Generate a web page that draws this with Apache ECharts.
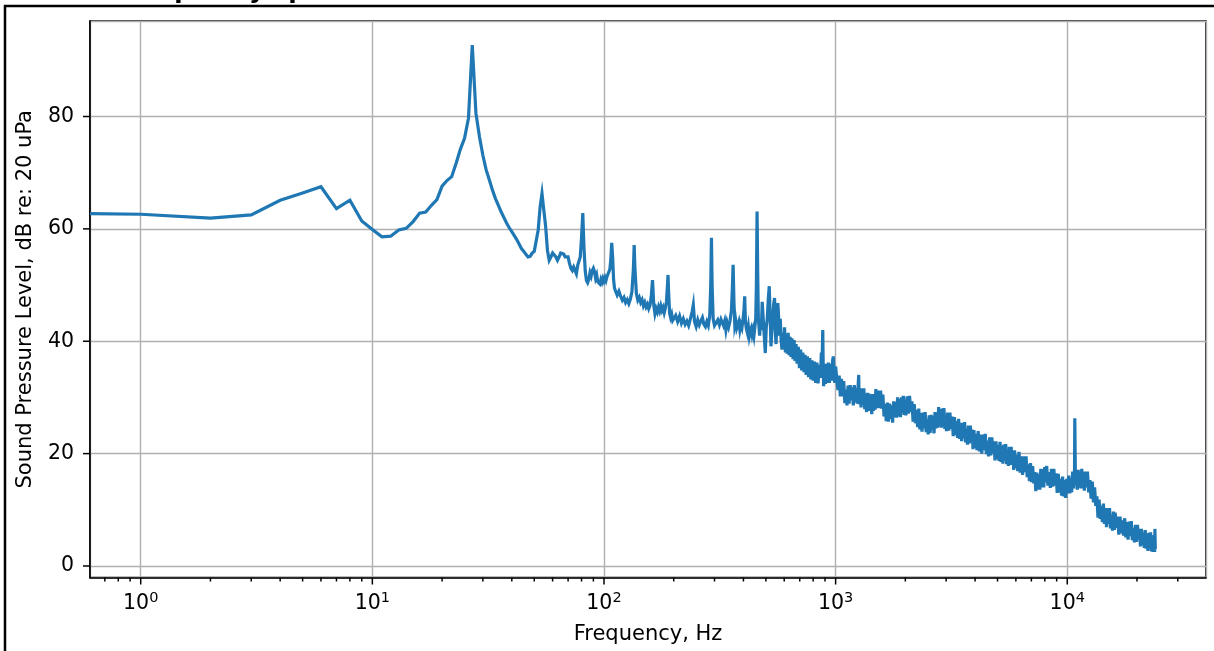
<!DOCTYPE html>
<html>
<head>
<meta charset="utf-8">
<script src="https://cdn.jsdelivr.net/npm/echarts@6/dist/echarts.min.js"></script>
<style>
html,body{margin:0;padding:0;background:#fff;}
#chart{width:1214px;height:651px;}
</style>
</head>
<body>
<div id="chart"></div>
<script>
// ---- data: [frequency Hz, SPL dB re 20 uPa] ----
const lowBand = [[0.604,62.7],[1,62.6],[2,61.9],[3,62.5],[4,65.1],[5,66.4],[6,67.5],[7,63.6],[8,65.1],[9,61.4],[10,59.9],[11,58.6],[12,58.7],[13,59.8],[14,60.1],[15,61.3],[16,62.8],[17,63.0],[18,64.2],[19,65.2],[20,67.6],[21,68.6],[22,69.3],[23,71.7],[24,74.2],[25,76.1],[26,79.7],[27,92.7],[28,80.6],[29,76.4],[30,73.1],[31,70.5],[32,68.7],[33,66.9],[34,65.4],[35,64.2],[36,63.0],[37,62.0],[38,61.0],[39,60.2],[40,59.5],[41,58.8],[42,58.1],[43,57.3],[44,56.5],[45,56.0],[46,55.5],[47,55.0],[48,55.1],[49,55.7],[50,56.0],[51,56.2],[52,59.8],[53,63.9],[54,66.3],[55,63.3],[56,60.4],[57,56.2],[58,54.4],[59,55.0],[60,55.7],[61,55.9],[62,55.0],[63,54.4],[64,55.0],[65,55.7],[66,55.9],[67,55.5],[68,55.0],[69,55.3],[70,55.0],[71,53.8],[72,53.0],[73,52.6],[74,53.2],[75,53.0],[76,52.0],[77,53.5],[78,53.5],[79,55.0],[80,58.5],[81,62.8],[82,56.5],[83,52.5],[84,50.8],[85,50.4],[86,51.0],[87,52.2],[88,51.6],[89,52.6],[90,53.0],[91,52.4],[92,51.2],[93,51.8],[94,50.6],[95,50.9],[96,50.2],[97,51.0],[98,50.5],[99,51.2],[100,50.7],[101,51.3],[102,50.8],[103,51.5],[104,51.2],[105,51.8],[106,52.8],[107,54.5],[108,57.5],[109,55.0],[110,51.0],[111,49.5]];
const midBand = [[112,49.0],[114,48.2],[116,48.9],[118,48.0],[120,47.3],[122,47.8],[124,46.9],[126,47.4],[128,46.7],[130,47.5],[132,48.8],[134,53.0],[135,57.1],[136,53.0],[138,48.5],[140,47.3],[142,47.8],[144,46.9],[146,47.4],[148,46.3],[150,46.9],[152,46.1],[154,46.6],[156,45.8],[158,46.4],[160,48.0],[162,50.9],[164,46.5],[166,44.9],[168,45.8],[170,45.2],[172,46.1],[174,45.4],[176,46.3],[178,45.5],[180,46.0],[182,45.1],[184,45.9],[186,47.0],[188,50.0],[189,51.8],[190,49.0],[192,45.0],[194,44.2],[196,44.8],[198,43.7]];
const harmonicBand = [[200,43.6],[204,44.6],[208,43.5],[212,44.5],[216,43.2],[220,44.0],[224,43.0],[228,43.6],[232,42.8],[236,44.0],[240,45.2],[243,46.5],[246,43.5],[250,42.6],[254,43.8],[258,42.9],[262,43.6],[266,44.2],[270,43.0],[274,42.6],[278,43.5],[282,42.8],[286,44.5],[289,50.0],[291,58.4],[293,50.0],[296,44.0],[300,42.8],[305,42.6],[310,43.8],[315,42.9],[320,43.9],[324,44.2],[328,42.8],[332,43.6],[336,42.0],[340,43.4],[345,42.5],[350,43.6],[355,45.5],[358,49.0],[361,53.6],[364,47.0],[367,43.0],[370,43.8],[374,42.3],[378,42.6],[382,43.5],[386,42.0],[390,43.0],[394,42.4],[398,43.8],[402,45.5],[405,48.0],[408,43.5],[412,42.2],[416,41.5],[420,42.6],[424,40.9],[428,41.8],[432,42.3],[436,41.2],[440,42.0],[444,41.0],[448,42.5],[452,44.0],[455,50.0],[458,63.1],[461,52.0],[464,44.0],[467,42.5],[470,41.0],[474,44.0],[478,42.0],[482,47.0],[487,46.8],[492,41.0],[497,37.9],[502,42.5],[507,44.0],[512,47.5],[517,49.8],[522,44.0],[526,39.1],[530,41.5],[535,44.0],[540,46.5],[545,47.7],[549,42.0],[553,39.5],[558,43.5],[563,46.8],[568,44.0],[573,41.0],[577,44.0],[582,40.1],[587,38.5],[592,41.5],[597,39.0],[602,42.5],[607,38.0],[612,41.0],[618,37.8],[624,41.5],[630,37.5],[636,40.8],[642,37.2],[648,40.5],[655,36.8],[662,40.2],[668,36.5],[675,39.5],[682,36.0],[690,39.0],[698,35.2],[706,38.5],[714,34.8],[722,38.0],[730,34.5],[738,37.6],[746,34.0],[755,37.3],[764,33.6],[773,37.0],[782,33.2],[791,36.6],[800,33.0],[810,36.4],[820,32.6],[830,36.2],[840,32.5],[850,35.8],[860,33.5],[868,38.0],[875,37.0],[880,42.0],[884,35.5],[888,32.0],[896,35.8],[904,32.4],[912,36.0],[920,32.6],[930,36.2],[940,32.6],[950,36.0],[960,33.0],[970,36.5],[977,37.3],[985,33.5],[992,32.6],[1000,35.5]];
const band1k = [[1012,35.3],[1024,31.3],[1036,33.9],[1048,30.2],[1060,33.3],[1072,30.2],[1084,32.9],[1096,29.0],[1108,31.4],[1120,28.6],[1132,32.1],[1144,28.9],[1156,32.2],[1168,29.5],[1180,31.8],[1192,28.6],[1204,32.2],[1216,29.1],[1228,31.7],[1240,28.9],[1252,32.4],[1258,34.0],[1264,28.8],[1276,31.6],[1288,28.2],[1300,31.6],[1312,28.7],[1324,31.6],[1336,27.9],[1348,30.2],[1360,27.4],[1372,30.8],[1384,27.6],[1396,30.7],[1408,27.9],[1420,30.3],[1432,27.0],[1444,30.6],[1456,27.6],[1468,30.4],[1480,27.8],[1492,31.5],[1510,28.1],[1528,31.2],[1546,28.1],[1564,31.2],[1582,28.0],[1600,30.5],[1618,26.6],[1636,28.8],[1654,25.8],[1672,29.1],[1690,25.7],[1708,28.9],[1726,26.2],[1744,28.6],[1762,25.5],[1780,29.3],[1798,26.5],[1816,29.2],[1834,26.4],[1852,30.0],[1870,26.6],[1888,29.7],[1906,26.5],[1924,30.0],[1942,27.3],[1960,30.3],[1978,26.9],[1996,29.5]];
const band2k = [[2010,26.8],[2035,30.2],[2060,27.1],[2085,30.3],[2110,27.4],[2135,29.3],[2160,25.7],[2185,28.8],[2210,25.4],[2235,27.8],[2260,24.7],[2285,28.0],[2310,24.3],[2335,27.2],[2360,23.9],[2385,27.3],[2410,24.5],[2435,27.4],[2460,23.8],[2485,26.2],[2510,23.4],[2535,26.8],[2560,23.7],[2585,26.9],[2610,24.2],[2635,26.7],[2660,23.6],[2685,27.4],[2710,24.5],[2735,27.3],[2760,24.6],[2785,28.3],[2810,24.9],[2835,27.9],[2860,24.6],[2885,28.0],[2910,25.2],[2935,28.1],[2960,24.4],[2985,26.8],[3010,24.0],[3045,27.3],[3080,24.1],[3115,27.3],[3150,24.4],[3185,26.6],[3220,23.1],[3255,26.5],[3290,23.3],[3325,25.8],[3360,22.8],[3395,26.2],[3430,22.6],[3465,25.5],[3500,22.2],[3535,25.5],[3570,22.7],[3605,25.6],[3640,22.0],[3675,24.4],[3710,21.6],[3745,25.0],[3780,21.8],[3815,25.0],[3850,22.1],[3885,24.3],[3920,20.8],[3955,24.2],[3990,21.0]];
const band4k = [[4025,23.5],[4075,20.6],[4125,24.0],[4175,20.4],[4225,23.4],[4275,20.0],[4325,23.4],[4375,20.6],[4425,23.5],[4475,19.9],[4525,22.3],[4575,19.5],[4625,22.9],[4675,19.7],[4725,22.9],[4775,20.0],[4825,22.2],[4875,18.8],[4925,22.2],[4975,19.0],[5025,21.5],[5075,18.7],[5125,22.1],[5175,18.5],[5225,21.4],[5275,18.2],[5325,21.6],[5375,18.8],[5425,21.7],[5475,18.1],[5525,20.6],[5575,17.8],[5625,21.2],[5675,18.0],[5725,21.2],[5775,18.3],[5825,20.5],[5875,17.1],[5925,20.6],[5975,17.4],[6040,19.8],[6115,16.9],[6190,20.3],[6265,16.6],[6340,19.5],[6415,16.2],[6490,19.5],[6565,16.7],[6640,19.5],[6715,15.8],[6790,18.1],[6865,15.1],[6940,18.3],[7015,14.9],[7090,17.8],[7165,14.7],[7240,16.7],[7315,13.3],[7390,16.6],[7465,13.6],[7540,16.3],[7615,13.6],[7690,17.3],[7765,14.0],[7840,17.2],[7915,14.0],[7990,17.6]];
const band8k = [[8050,14.9],[8150,17.8],[8250,14.3],[8350,16.7],[8450,13.9],[8550,17.3],[8650,14.1],[8750,17.3],[8850,14.3],[8950,16.5],[9050,13.0],[9150,16.4],[9250,13.1],[9350,15.5],[9450,12.5],[9550,15.9],[9650,12.4],[9750,15.3],[9850,12.1],[9950,15.5],[10050,12.9],[10150,16.1],[10250,12.9],[10350,15.6],[10450,13.1],[10550,16.8],[10650,13.8],[10750,17.2],[10780,26.3],[10850,14.5],[10950,16.9],[11050,13.6],[11150,17.1],[11250,14.0],[11350,16.6],[11450,13.8],[11550,17.3],[11650,13.8],[11750,16.7],[11850,13.4],[11950,16.8],[12075,14.0],[12225,16.8],[12375,13.1],[12525,15.3],[12675,12.0],[12825,15.0],[12975,11.3],[13125,14.0],[13275,10.7],[13425,12.4],[13575,8.6],[13725,11.8],[13875,8.4],[14025,10.7],[14175,7.8],[14325,11.1],[14475,7.5],[14625,10.3],[14775,6.9],[14925,10.3],[15075,7.5],[15225,10.3],[15375,6.7],[15525,9.1],[15675,6.3],[15825,9.7],[15975,6.4]];
const band16k = [[16100,9.5],[16300,6.8],[16500,8.8],[16700,5.6],[16900,8.8],[17100,5.8],[17300,8.1],[17500,5.4],[17700,8.5],[17900,5.1],[18100,7.8],[18300,4.7],[18500,7.9],[18700,5.3],[18900,8.0],[19100,4.6],[19300,6.8],[19500,4.2],[19700,7.3],[19900,4.3],[20100,7.3],[20300,4.7],[20500,6.6],[20700,3.5],[20900,6.6],[21100,3.7],[21300,5.9],[21500,3.2],[21700,6.4],[21900,3.1],[22100,5.7],[22300,2.7],[22500,5.9],[22700,3.3],[22900,6.0],[23100,2.6],[23300,4.9],[23500,2.5],[23700,5.5],[23850,2.5],[23900,6.6],[24000,3.0]];

const majorXTicks = [1, 10, 100, 1000, 10000];
const minorXTicks = [0.7,0.8,0.9,2,3,4,5,6,7,8,9,20,30,40,50,60,70,80,90,200,300,400,500,600,700,800,900,2000,3000,4000,5000,6000,7000,8000,9000,20000,30000];
const yTickValues = [0, 20, 40, 60, 80];

const X_MIN = 0.604, X_MAX = 39720;
const Y_MIN = -2.05, Y_MAX = 97.0;

const spectrum = [].concat(lowBand, midBand, harmonicBand, band1k, band2k, band4k, band8k, band16k);

const FONT = 'DejaVu Sans';
const chart = echarts.init(document.getElementById('chart'), null, {renderer: 'canvas'});

const xTickData = majorXTicks.map(f => [f, Y_MIN, 7]).concat(minorXTicks.map(f => [f, Y_MIN, 4]));
const yTickData = yTickValues.map(v => [X_MIN, v, 7]);

chart.setOption({
  backgroundColor: '#fff',
  animation: false,
  graphic: [
    {type: 'rect', z: 100, silent: true,
     shape: {x: 5, y: 6, width: 1400, height: 800},
     style: {fill: 'none', stroke: '#000', lineWidth: 2.5}},
    {type: 'text', z: 100, silent: true, x: 121, y: -8,
     style: {text: 'Frequency spectrum', fill: '#000', fontSize: 24.6, fontWeight: 'bold', fontFamily: FONT, verticalAlign: 'middle', align: 'left'}}
  ],
  grid: {left: 90, right: 8, top: 21, bottom: 73.5, show: true, borderColor: '#000', borderWidth: 1.6, containLabel: false},
  xAxis: {
    type: 'log', logBase: 10, min: X_MIN, max: X_MAX,
    name: 'Frequency, Hz', nameLocation: 'middle', nameGap: 47,
    nameTextStyle: {fontSize: 21, color: '#000', fontFamily: FONT},
    axisLine: {show: true, onZero: false, lineStyle: {color: '#000', width: 1.6}},
    axisTick: {show: false},
    axisLabel: {
      margin: 13, showMinLabel: false, showMaxLabel: false, color: '#000',
      formatter: v => '{b|10}{s|' + Math.round(Math.log10(v)) + '}',
      rich: {
        b: {fontSize: 20.5, fontFamily: FONT, color: '#000', lineHeight: 24, verticalAlign: 'bottom'},
        s: {fontSize: 14.5, fontFamily: FONT, color: '#000', lineHeight: 14, verticalAlign: 'top'}
      }
    },
    splitLine: {show: true, lineStyle: {color: '#b0b0b0', width: 1.4}}
  },
  yAxis: {
    type: 'value', min: Y_MIN, max: Y_MAX, splitNumber: 5,
    name: 'Sound Pressure Level, dB re: 20 uPa', nameLocation: 'middle', nameGap: 54,
    nameTextStyle: {fontSize: 21, color: '#000', fontFamily: FONT},
    axisLine: {show: true, onZero: false, lineStyle: {color: '#000', width: 1.6}},
    axisTick: {show: false},
    axisLabel: {margin: 16, showMinLabel: false, showMaxLabel: false, fontSize: 20.5, color: '#000', fontFamily: FONT},
    splitLine: {show: true, lineStyle: {color: '#b0b0b0', width: 1.4}}
  },
  series: [
    {type: 'line', data: spectrum, showSymbol: false, symbol: 'none', clip: true, z: 5,
     lineStyle: {color: '#1f77b4', width: 3.2, join: 'miter'}, itemStyle: {color: '#1f77b4'}},
    {type: 'custom', data: xTickData, silent: true, z: 10, clip: false,
     renderItem: (params, api) => {
       const p = api.coord([api.value(0), api.value(1)]);
       const len = api.value(2);
       return {type: 'line', shape: {x1: p[0], y1: p[1], x2: p[0], y2: p[1] + len}, style: {stroke: '#000', lineWidth: 1.5}};
     }},
    {type: 'custom', data: yTickData, silent: true, z: 10, clip: false,
     renderItem: (params, api) => {
       const p = api.coord([api.value(0), api.value(1)]);
       const len = api.value(2);
       return {type: 'line', shape: {x1: p[0] - len, y1: p[1], x2: p[0], y2: p[1]}, style: {stroke: '#000', lineWidth: 1.5}};
     }}
  ]
});
</script>
</body>
</html>
